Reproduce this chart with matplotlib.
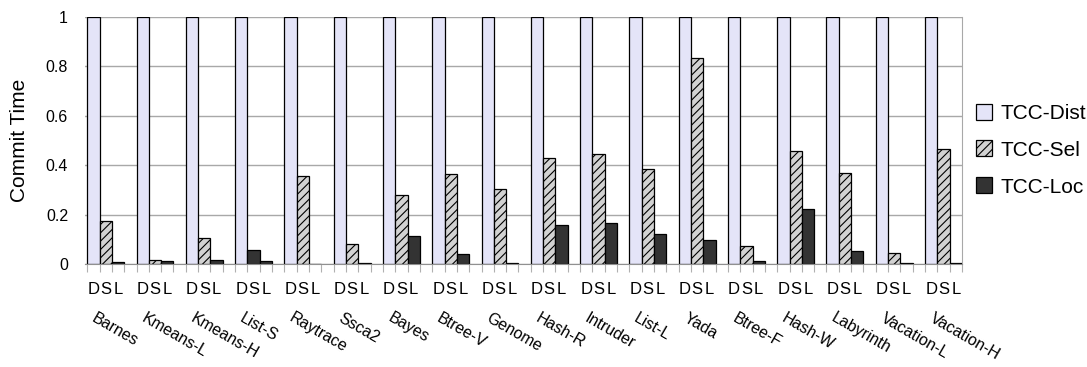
import matplotlib
matplotlib.use("Agg")
import matplotlib.pyplot as plt
from matplotlib.patches import Patch
import numpy as np

plt.rcParams['font.family'] = ['Liberation Sans', 'DejaVu Sans']
plt.rcParams['hatch.linewidth'] = 0.8

benchmarks = ["Barnes", "Kmeans-L", "Kmeans-H", "List-S", "Raytrace", "Ssca2",
              "Bayes", "Btree-V", "Genome", "Hash-R", "Intruder", "List-L",
              "Yada", "Btree-F", "Hash-W", "Labyrinth", "Vacation-L", "Vacation-H"]
series_names = ["TCC-Dist", "TCC-Sel", "TCC-Loc"]
bar_labels = ["D", "S", "L"]

tcc_dist = [1.0] * 18
tcc_sel = [0.175, 0.017, 0.107, 0.057, 0.358, 0.083, 0.280, 0.365, 0.303,
           0.430, 0.447, 0.385, 0.832, 0.074, 0.459, 0.370, 0.046, 0.464]
tcc_loc = [0.008, 0.013, 0.017, 0.013, 0.0, 0.005, 0.113, 0.040, 0.005,
           0.157, 0.168, 0.124, 0.098, 0.013, 0.225, 0.052, 0.006, 0.005]

# styles: fill colour and hatch per series
fills = ["#E4E4F8", "#D2D2D2", "#333333"]
hatches = [None, "////", None]
# List-S selective bar is rendered solid dark
solid_dark_sel = {"List-S"}

fig = plt.figure(figsize=(10.87, 3.67), dpi=100)
ax = fig.add_axes([0.078, 0.2798, 0.807, 0.675])

n = len(benchmarks)
base = np.arange(n) * 4
for k, vals in enumerate([tcc_dist, tcc_sel, tcc_loc]):
    for g in range(n):
        fc, h = fills[k], hatches[k]
        if k == 1 and benchmarks[g] in solid_dark_sel:
            fc, h = fills[2], None
        ax.bar(base[g] + k, vals[g], width=1.0, align="edge", color=fc,
               edgecolor="black", linewidth=0.9, hatch=h, zorder=3)

ax.set_xlim(-0.2, 71)
ax.set_ylim(0, 1)
ax.set_yticks(np.arange(0, 1.01, 0.2))
ax.set_yticklabels(["0", "0.2", "0.4", "0.6", "0.8", "1"], fontsize=11.5)
ax.yaxis.grid(True, color="#A8A8A8", linewidth=1.0, zorder=0)
ax.tick_params(axis="y", length=0, pad=12)

centers = np.concatenate([base + k + 0.5 for k in range(3)])
labels = [bar_labels[k] for k in range(3) for _ in range(n)]
ax.set_xticks(centers)
ax.set_xticklabels(labels, fontsize=12)
ax.tick_params(axis="x", length=0, pad=13)
ax.set_xticks(np.arange(0, 72), minor=True)
ax.tick_params(axis="x", which="minor", length=6, color="#B0B0B0", width=0.8)

for s in ["top", "left"]:
    ax.spines[s].set_visible(False)
ax.spines["right"].set_color("#A8A8A8")
ax.spines["bottom"].set_color("#909090")
ax.spines["bottom"].set_zorder(4)

ax.set_ylabel("Commit Time", fontsize=15, labelpad=12)

for g, name in enumerate(benchmarks):
    ax.annotate(name, xy=(base[g] + 0.8, 0), xycoords=("data", "axes fraction"),
                xytext=(0, -33), textcoords="offset points",
                rotation=-30, rotation_mode="anchor", ha="left", va="top",
                fontsize=11.5)

handles = [Patch(facecolor=fills[k], edgecolor="black", hatch=hatches[k], linewidth=0.9)
           for k in range(3)]
fig.legend(handles, series_names, loc="center left", bbox_to_anchor=(0.898, 0.591),
           frameon=False, fontsize=15, handlelength=0.75, handleheight=0.8,
           handletextpad=0.4, labelspacing=0.85, borderpad=0, borderaxespad=0)

fig.savefig("out.png", dpi=100)
